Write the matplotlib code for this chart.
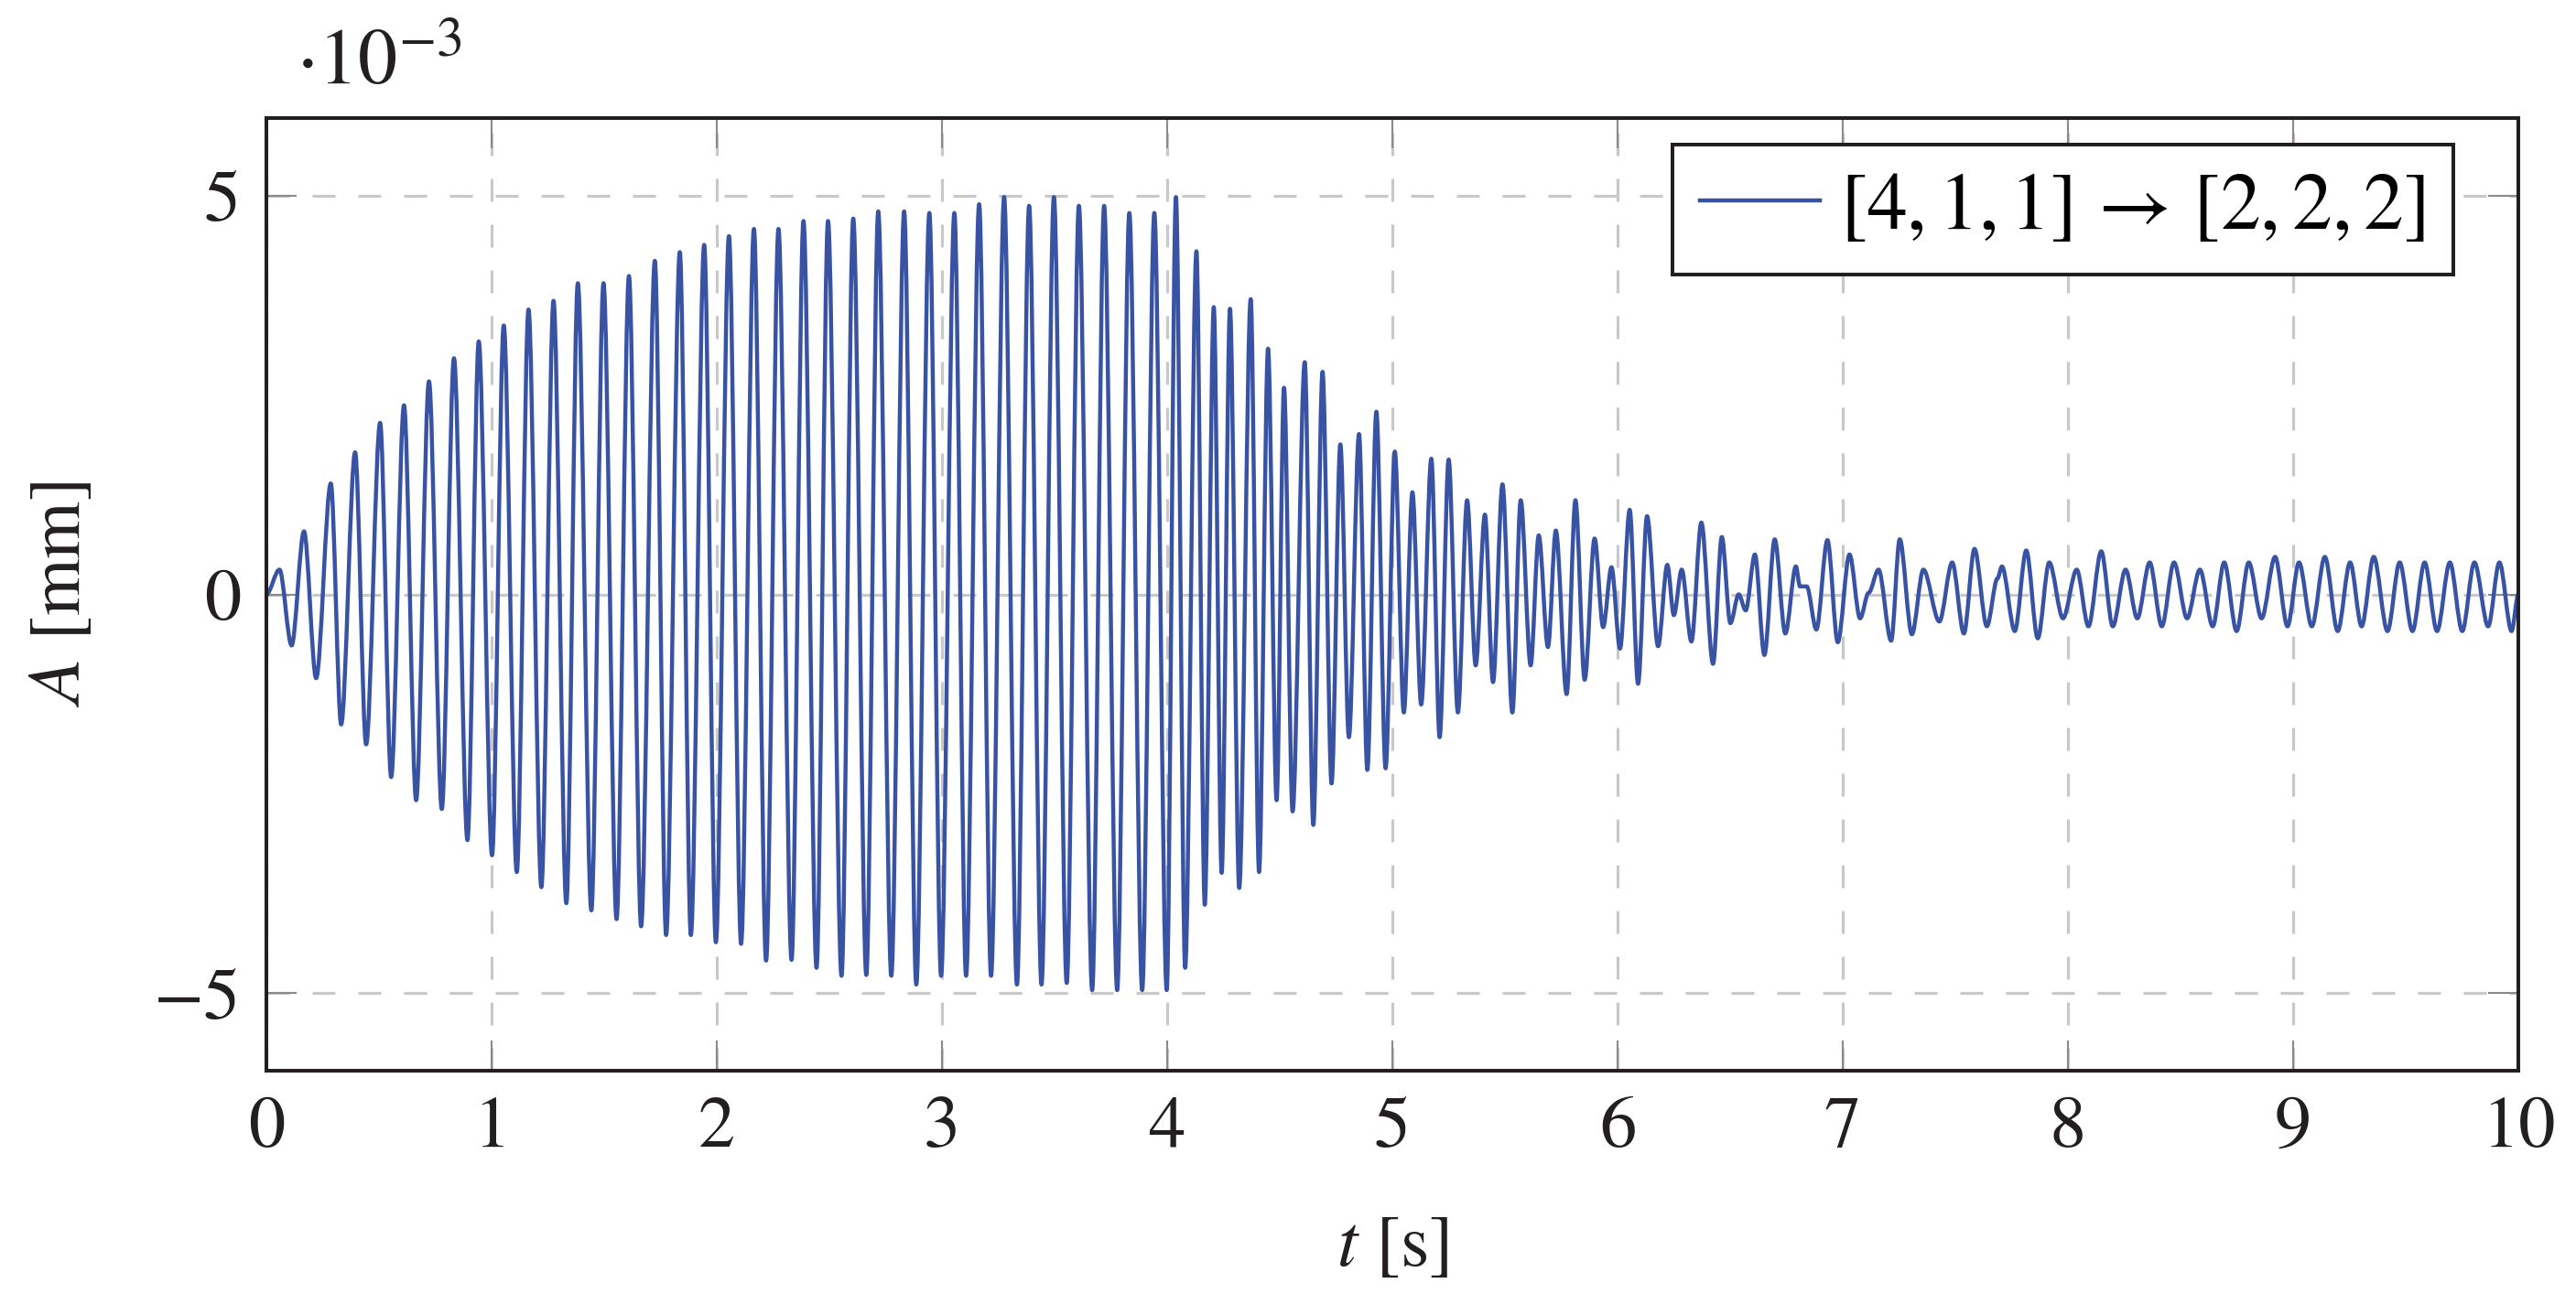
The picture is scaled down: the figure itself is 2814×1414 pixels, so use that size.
import matplotlib
matplotlib.use("Agg")
import matplotlib.pyplot as plt
from matplotlib.path import Path
from matplotlib.patches import PathPatch
from matplotlib.lines import Line2D
import numpy as np

# ---- data: extrema of the response, amplitude in 1e-3 mm ----
t_seg1 = [0.000, 0.058, 0.112, 0.167, 0.221, 0.286, 0.332, 0.394, 0.443, 0.505,
          0.554, 0.611, 0.665, 0.722, 0.779, 0.833, 0.893, 0.943, 1.002, 1.054,
          1.112, 1.164, 1.221, 1.275, 1.332, 1.383, 1.443, 1.497, 1.555, 1.610,
          1.664, 1.725, 1.775, 1.836, 1.885, 1.944, 1.996]
a_seg1 = [0.00, 0.31, -0.64, 0.79, -1.05, 1.39, -1.63, 1.78, -1.88, 2.15,
          -2.29, 2.37, -2.58, 2.67, -2.69, 2.96, -3.08, 3.17, -3.27, 3.37,
          -3.48, 3.57, -3.67, 3.68, -3.87, 3.90, -3.96, 3.90, -4.07, 3.99,
          -4.16, 4.18, -4.27, 4.29, -4.27, 4.38, -4.36]

t_seg2 = [2.054, 2.108, 2.165, 2.219, 2.274, 2.332, 2.385, 2.443, 2.494, 2.554,
          2.606, 2.664, 2.717, 2.775, 2.832, 2.886, 2.944, 2.996, 3.055, 3.107,
          3.165, 3.218, 3.276, 3.333, 3.387, 3.442, 3.497, 3.554, 3.608, 3.667,
          3.720, 3.778, 3.832, 3.889, 3.943, 3.998]
a_seg2 = [4.49, -4.38, 4.58, -4.59, 4.58, -4.58, 4.68, -4.68, 4.68, -4.78,
          4.71, -4.77, 4.80, -4.78, 4.80, -4.89, 4.78, -4.78, 4.78, -4.78,
          4.89, -4.78, 4.98, -4.89, 4.87, -4.89, 4.98, -4.87, 4.87, -4.96,
          4.87, -4.96, 4.78, -4.96, 4.78, -4.96]

t_seg3 = [4.039, 4.080, 4.130, 4.167, 4.207, 4.242, 4.279, 4.320, 4.371, 4.408,
          4.448, 4.486, 4.519, 4.557, 4.611, 4.649, 4.690, 4.730, 4.769, 4.807,
          4.852, 4.889, 4.929, 4.970]
a_seg3 = [4.98, -4.68, 4.30, -3.89, 3.60, -3.49, 3.58, -3.68, 3.70, -3.48,
          3.08, -2.58, 2.59, -2.72, 2.91, -2.89, 2.79, -2.37, 1.88, -1.79,
          2.01, -2.20, 2.29, -2.18]

t_seg4 = [5.011, 5.051, 5.089, 5.128, 5.173, 5.210, 5.250, 5.291, 5.332, 5.370,
          5.411, 5.447, 5.489, 5.533, 5.570, 5.614, 5.650, 5.691, 5.726, 5.774,
          5.813, 5.854, 5.898, 5.936, 5.973, 6.011, 6.054, 6.091, 6.131, 6.180,
          6.221, 6.250, 6.285, 6.328, 6.372, 6.424, 6.463, 6.501, 6.538, 6.569,
          6.610, 6.652, 6.698, 6.745, 6.792, 6.810, 6.840, 6.883, 6.932, 6.978]
a_seg4 = [1.79, -1.48, 1.28, -1.38, 1.70, -1.79, 1.69, -1.48, 1.18, -0.89,
          1.00, -1.10, 1.38, -1.48, 1.18, -0.89, 0.74, -0.66, 0.80, -1.25,
          1.18, -1.07, 0.70, -0.41, 0.34, -0.68, 1.06, -1.12, 0.98, -0.65,
          0.37, -0.26, 0.31, -0.59, 0.90, -0.87, 0.72, -0.36, 0.00, -0.20,
          0.50, -0.76, 0.69, -0.49, 0.35, 0.10, 0.10, -0.44, 0.68, -0.60]

t_seg5 = [7.030, 7.077, 7.115, 7.159, 7.215, 7.253, 7.307, 7.358, 7.429, 7.486,
          7.538, 7.585, 7.640, 7.687, 7.707, 7.764, 7.815, 7.866, 7.917, 7.978,
          8.039, 8.091, 8.148, 8.199, 8.256, 8.308, 8.363, 8.417, 8.471, 8.529,
          8.586, 8.643, 8.694, 8.749, 8.803, 8.860, 8.920, 8.975, 9.026, 9.083,
          9.141, 9.198, 9.253, 9.304, 9.358, 9.419, 9.473, 9.530, 9.584, 9.639,
          9.696, 9.751, 9.805, 9.866, 9.916, 9.970, 10.000]
a_seg5 = [0.50, -0.30, 0.02, 0.31, -0.58, 0.69, -0.50, 0.31, -0.34, 0.40,
          -0.49, 0.57, -0.40, 0.20, 0.35, -0.46, 0.55, -0.55, 0.40, -0.30,
          0.31, -0.40, 0.54, -0.40, 0.31, -0.30, 0.40, -0.40, 0.40, -0.30,
          0.31, -0.40, 0.40, -0.46, 0.40, -0.30, 0.47, -0.40, 0.40, -0.40,
          0.47, -0.46, 0.40, -0.40, 0.47, -0.46, 0.40, -0.46, 0.40, -0.46,
          0.40, -0.46, 0.40, -0.40, 0.40, -0.46, 0.00]

x_ticks = [0, 1, 2, 3, 4, 5, 6, 7, 8, 9, 10]
y_ticks = [-5, 0, 5]
legend_label = r"$[4,1,1]\,\rightarrow\,[2,2,2]$"

t = np.array(t_seg1 + t_seg2 + t_seg3 + t_seg4 + t_seg5)
a = np.array(a_seg1 + a_seg2 + a_seg3 + a_seg4 + a_seg5)

# ---- styling ----
plt.rcParams["font.family"] = "STIXGeneral"
plt.rcParams["mathtext.fontset"] = "stix"
plt.rcParams["lines.scale_dashes"] = False

W, H = 2814, 1414
fig = plt.figure(figsize=(W / 100, H / 100), dpi=100)
L, R, T, B = 291, 2751, 129, 1170
ax = fig.add_axes([L / W, 1 - B / H, (R - L) / W, (B - T) / H])

ink = "#231f20"
blue = "#3953a4"
lw = 3.2

# smooth curve through the extrema (horizontal tangents at each extremum)
k = 0.33
verts = [(t[0], a[0])]
codes = [Path.MOVETO]
for i in range(len(t) - 1):
    dt = t[i + 1] - t[i]
    verts += [(t[i] + k * dt, a[i]), (t[i + 1] - k * dt, a[i + 1]), (t[i + 1], a[i + 1])]
    codes += [Path.CURVE4] * 3
ax.add_patch(PathPatch(Path(verts, codes), facecolor="none", edgecolor=blue,
                       lw=lw, zorder=3, joinstyle="round", capstyle="round"))

ax.set_xlim(0, 10)
ax.set_ylim(-5.97, 5.97)
ax.set_xticks(x_ticks)
ax.set_yticks(y_ticks)
ax.set_xticklabels([str(v) for v in x_ticks])
ax.set_yticklabels(["\u22125", "0", "5"])

ax.grid(True, color="#c8c8c8", linestyle=(0, (18, 18)), lw=2.3, zorder=0)
ax.tick_params(direction="in", length=24, width=1.5, color="#8a8a8a",
               top=True, right=True, labelsize=58, labelcolor=ink, pad=20)
for s in ax.spines.values():
    s.set_color(ink)
    s.set_linewidth(2.9)
    s.set_zorder(5)

ax.set_xlabel(r"$t$ [s]", fontsize=58, color=ink)
ax.xaxis.label.set_va("center")
ax.xaxis.set_label_coords(0.5, -0.186)
ax.set_ylabel(r"$A$ [mm]", fontsize=58, color=ink)
ax.yaxis.label.set_va("center")
ax.yaxis.set_label_coords(-0.0907, 0.5)

fig.text(323 / W, 1 - 92 / H, r"$\cdot 10^{-3}$", fontsize=62, color=ink,
         ha="left", va="baseline")

handle = Line2D([], [], color=blue, lw=lw)
leg = ax.legend(handles=[handle], labels=[legend_label],
                loc="upper right", bbox_to_anchor=(0.971, 0.972),
                borderaxespad=0, fancybox=False, edgecolor=ink, framealpha=1,
                fontsize=63, handlelength=1.5, handletextpad=0.25,
                borderpad=0.35)
leg.get_frame().set_linewidth(2.9)
leg.set_zorder(6)

fig.savefig("out.png", dpi=100)
